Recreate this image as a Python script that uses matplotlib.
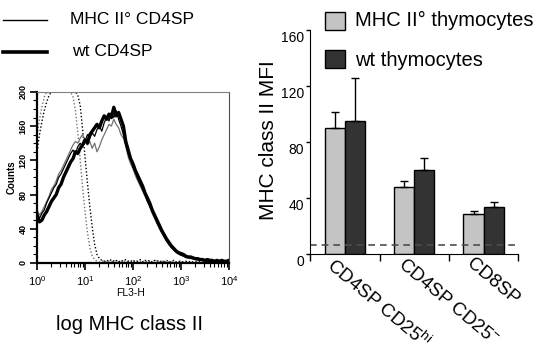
import numpy as np
import matplotlib
matplotlib.use("Agg")
import matplotlib.pyplot as plt
from matplotlib.patches import Rectangle
from matplotlib.lines import Line2D
from matplotlib import transforms

plt.rcParams['font.family'] = ['Liberation Sans', 'DejaVu Sans']
plt.rcParams['mathtext.fontset'] = 'custom'
plt.rcParams['mathtext.rm'] = 'Liberation Sans'
plt.rcParams['mathtext.it'] = 'Liberation Sans:italic'

# histogram channels (log10 of FL3-H)
log_chan = np.linspace(0, 4, 81)

wt_cd4sp = [55, 48, 50, 56, 60, 66, 72, 76, 80, 88, 92, 100, 106, 112, 118, 122, 130, 128, 134, 138,
            144, 140, 150, 154, 158, 162, 158, 166, 172, 168, 174, 170, 182, 172, 176, 168, 160, 142, 132, 122,
            116, 108, 102, 96, 90, 82, 76, 70, 62, 56, 50, 44, 38, 33, 28, 24, 20, 17, 14, 12,
            11, 10, 8, 7, 7, 6, 5, 5, 4, 4, 3, 4, 3, 3, 2, 3, 2, 3, 2, 2, 3]
mhc_cd4sp = [60, 52, 58, 62, 70, 76, 82, 88, 92, 100, 104, 110, 116, 122, 128, 132, 128, 136, 140, 136,
             142, 150, 146, 152, 148, 156, 160, 154, 164, 170, 166, 176, 170, 178, 168, 160, 150, 138, 128, 120,
             112, 106, 98, 92, 86, 80, 72, 66, 60, 54, 47, 42, 36, 31, 26, 22, 18, 15, 13, 11,
             9, 8, 7, 6, 6, 5, 4, 4, 3, 3, 3, 2, 2, 3, 2, 2, 1, 2, 1, 2, 1]
mhc_cd4sp_b = [62, 56, 60, 66, 72, 78, 86, 90, 96, 104, 108, 114, 120, 126, 132, 138, 142, 140, 146, 150,
               144, 138, 142, 134, 140, 130, 136, 144, 150, 156, 162, 160, 168, 162, 158, 150, 146, 136, 124, 116,
               110, 102, 96, 90, 84, 78, 72, 66, 58, 52, 46, 40, 35, 30, 25, 21, 18, 15, 12, 10,
               9, 8, 6, 6, 5, 5, 4, 3, 3, 3, 2, 2, 2, 2, 1, 2, 1, 1, 1, 1, 1]
iso_a = [130, 150, 165, 178, 188, 196, 200, 200, 200, 200, 200, 200, 200, 200, 200, 200, 200, 196, 184, 156,
         124, 94, 66, 42, 22, 10, 5, 3, 2, 3, 2, 4, 2, 3, 1, 3, 2, 4, 2, 3,
         1, 3, 2, 4, 1, 3, 2, 3, 1, 3, 2, 3, 1, 2, 3, 1, 2, 3, 1, 2,
         2, 1, 2, 1, 2, 1, 1, 2, 1, 1, 1, 0, 1, 0, 1, 0, 0, 1, 0, 0, 0]
iso_b = [150, 168, 182, 194, 200, 200, 200, 200, 200, 200, 200, 200, 200, 200, 200, 194, 178, 152, 120, 88,
         60, 36, 18, 8, 4, 2, 1, 2, 3, 1, 2, 1, 3, 2, 1, 2, 3, 1, 2, 1,
         3, 2, 1, 2, 1, 3, 1, 2, 1, 2, 3, 1, 2, 1, 2, 1, 1, 2, 1, 1,
         1, 2, 1, 0, 1, 1, 0, 1, 0, 1, 0, 0, 1, 0, 0, 1, 0, 0, 0, 0, 0]

# MFI bar chart
groups = ['CD4SP CD25$^{\\mathrm{hi}}$', 'CD4SP CD25$^{-}$', 'CD8SP']
mhc_mfi = [90.5, 47.8, 29.0]
mhc_err = [11.0, 4.8, 1.6]
wt_mfi = [95.2, 60.2, 33.6]
wt_err = [31.0, 8.5, 4.0]
cutoff = 6.2
mfi_ticks = [0, 40, 80, 120, 160]

fig = plt.figure(figsize=(5.45, 3.52), dpi=100)

# ---- left: histogram ----
ax1 = fig.add_axes([0.068, 0.253, 0.352, 0.486])
ax1.plot(log_chan, iso_b, color='0.45', lw=1.0, ls=(0, (1, 1.5)))
ax1.plot(log_chan, iso_a, color='black', lw=1.0, ls=(0, (1, 1.5)))
ax1.plot(log_chan, mhc_cd4sp_b, color='0.45', lw=0.9)
ax1.plot(log_chan, mhc_cd4sp, color='black', lw=0.9)
ax1.plot(log_chan, wt_cd4sp, color='black', lw=2.4)
ax1.set_xlim(0, 4)
ax1.set_ylim(0, 200)
ax1.set_xticks([0, 1, 2, 3, 4])
ax1.set_xticklabels(['$10^{%d}$' % i for i in range(5)], fontsize=8)
minor = [np.log10(m) + d for d in range(4) for m in range(2, 10)]
ax1.set_xticks(minor, minor=True)
ax1.set_yticks([0, 40, 80, 120, 160, 200])
ax1.set_yticklabels(['0', '40', '80', '120', '160', '200'], rotation=90, va='center',
                    fontsize=6.5, fontweight='bold')
ax1.set_yticks(np.arange(0, 201, 10), minor=True)
ax1.tick_params(axis='x', which='major', length=5, width=1.2, pad=3)
ax1.tick_params(axis='x', which='minor', length=3, width=0.8)
ax1.tick_params(axis='y', which='major', length=5, width=1.2, pad=2)
ax1.tick_params(axis='y', which='minor', length=3, width=0.8)
ax1.spines['left'].set_linewidth(1.6)
ax1.spines['bottom'].set_linewidth(1.6)
ax1.spines['top'].set_color('0.5')
ax1.spines['right'].set_color('0.3')
ax1.set_ylabel('Counts', fontsize=7, fontweight='bold', labelpad=1)
fig.text(131 / 545, 1 - 293 / 352, 'FL3-H', fontsize=7.5, ha='center', va='center')
fig.text(130 / 545, 1 - 325 / 352, 'log MHC class II', fontsize=14.5, ha='center', va='center')

# left legend
fig.add_artist(Line2D([3 / 545, 47 / 545], [1 - 20 / 352] * 2, color='black', lw=1.0))
fig.add_artist(Line2D([3 / 545, 47 / 545], [1 - 52 / 352] * 2, color='black', lw=2.6))
fig.text(70 / 545, 1 - 20 / 352, 'MHC II° CD4SP', fontsize=12.6, va='center')
fig.text(72 / 545, 1 - 52 / 352, 'wt CD4SP', fontsize=12.6, va='center')

# ---- right: MFI bars ----
ax2 = fig.add_axes([0.569, 0.278, 0.382, 0.636])
x = np.arange(len(groups)) + 0.5
w = 0.29
ax2.bar(x - w / 2, mhc_mfi, w, color='#c4c4c4', edgecolor='black', lw=1,
        yerr=[[0] * 3, mhc_err], error_kw=dict(ecolor='black', elinewidth=1, capsize=3, capthick=1))
ax2.bar(x + w / 2, wt_mfi, w, color='#333333', edgecolor='black', lw=1,
        yerr=[[0] * 3, wt_err], error_kw=dict(ecolor='black', elinewidth=1, capsize=3, capthick=1))
ax2.axhline(cutoff, color='0.3', lw=1.2, ls=(0, (4, 3)))
ax2.set_xlim(0, 3)
ax2.set_ylim(0, 160)
ax2.spines['top'].set_visible(False)
ax2.spines['right'].set_visible(False)
ax2.set_xticks([0, 1, 2, 3])
ax2.set_xticklabels([])
ax2.tick_params(axis='x', length=5, width=1)
ax2.set_yticks(mfi_ticks)
ax2.set_yticklabels([])
ax2.tick_params(axis='y', length=3, width=1)
lab_tr = transforms.offset_copy(ax2.get_yaxis_transform(), fig=fig, x=-6, y=-8, units='dots')
for v in mfi_ticks:
    ax2.text(0, v, str(v), transform=lab_tr, ha='right', va='center', fontsize=10)
grp_tr = transforms.offset_copy(ax2.get_xaxis_transform(), fig=fig, x=-9, y=-1, units='dots')
for xi, g in zip(x, groups):
    ax2.text(xi, 0, g, transform=grp_tr, rotation=-40, ha='left', va='top',
             rotation_mode='anchor', fontsize=13.5)
fig.text(268 / 545, 1 - 140 / 352, 'MHC class II MFI', fontsize=15, rotation=90,
         ha='center', va='center')

# right legend
fig.add_artist(Rectangle((325 / 545, 1 - 30 / 352), 20 / 545, 18 / 352, transform=fig.transFigure,
                         facecolor='#c4c4c4', edgecolor='black', lw=1))
fig.add_artist(Rectangle((325 / 545, 1 - 68 / 352), 20 / 545, 18 / 352, transform=fig.transFigure,
                         facecolor='#333333', edgecolor='black', lw=1))
fig.text(355 / 545, 1 - 20 / 352, 'MHC II° thymocytes', fontsize=14.5, va='center')
fig.text(355 / 545, 1 - 60 / 352, 'wt thymocytes', fontsize=14.5, va='center')

fig.savefig('out.png', dpi=100)
